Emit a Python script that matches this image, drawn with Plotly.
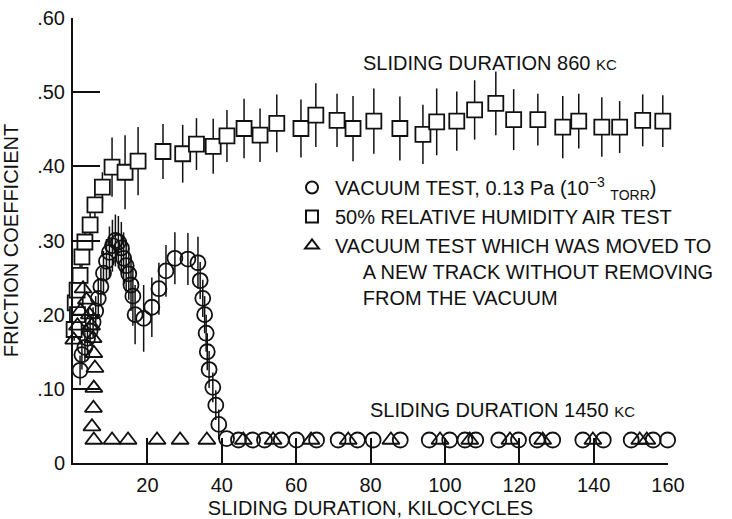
import plotly.graph_objects as go

# ---- vacuum test, 0.13 Pa (circles) ----
vac_x = [1.9, 2.4, 3.2, 3.9, 4.6, 5.4, 6.1, 6.8, 7.5, 8.2, 9.0, 9.8, 10.6, 11.4, 12.2,
         13.0, 13.6, 14.3, 15.0, 15.6, 16.1, 16.7, 19.0, 21.2, 23.1, 25.0, 27.4, 30.9,
         33.6, 34.2, 34.9, 35.4, 35.8, 36.1, 36.6, 37.6, 38.4, 39.2, 41.3, 44.5, 48.3,
         51.5, 56.0, 60.1, 65.5, 71.3, 76.5, 80.7, 88.0, 95.8, 101.3, 105.4, 108.3,
         114.5, 119.8, 124.8, 129.0, 137.1, 142.6, 150.1, 156.0, 159.9]
vac_y = [0.125, 0.146, 0.156, 0.168, 0.178, 0.190, 0.205, 0.222, 0.238, 0.256, 0.272,
         0.284, 0.293, 0.300, 0.298, 0.290, 0.276, 0.266, 0.255, 0.240, 0.225, 0.200,
         0.195, 0.210, 0.235, 0.259, 0.276, 0.275, 0.270, 0.246, 0.222, 0.200, 0.175,
         0.150, 0.126, 0.102, 0.078, 0.052, 0.033, 0.031, 0.031, 0.031, 0.031, 0.031,
         0.031, 0.031, 0.031, 0.031, 0.031, 0.031, 0.031, 0.031, 0.031, 0.031, 0.031,
         0.031, 0.031, 0.031, 0.031, 0.031, 0.031, 0.031]
vac_err = [0.02, 0.02, 0.02, 0.02, 0.02, 0.02, 0.02, 0.025, 0.025, 0.03, 0.03, 0.035,
           0.035, 0.035, 0.035, 0.035, 0.035, 0.035, 0.035, 0.035, 0.04, 0.04,
           0.045, 0.04, 0.035, 0.035, 0.035, 0.035,
           0.035, 0.025, 0.025, 0.025, 0.025, 0.025, 0.025, 0.02, 0.02, 0.02, 0.0,
           0.0, 0.0, 0.0, 0.0, 0.0, 0.0, 0.0, 0.0, 0.0, 0.0, 0.0, 0.0, 0.0, 0.0,
           0.0, 0.0, 0.0, 0.0, 0.0, 0.0, 0.0, 0.0, 0.0]

# ---- 50% relative humidity air test (squares) ----
air_x = [0.3, 0.6, 1.1, 1.2, 1.9, 2.4, 3.2, 4.6, 5.9, 7.9, 10.5, 14.0, 17.5, 24.2, 29.5,
         33.2, 37.7, 41.4, 46.0, 50.3, 54.8, 61.3, 65.3, 71.0, 75.3, 80.9, 87.9, 94.1,
         97.8, 103.2, 108.0, 113.7, 118.5, 125.0, 131.7, 136.0, 142.2, 147.0, 153.2, 158.6]
air_y = [0.180, 0.216, 0.233, 0.200, 0.253, 0.278, 0.298, 0.321, 0.348, 0.372, 0.399,
         0.392, 0.407, 0.420, 0.417, 0.430, 0.427, 0.441, 0.451, 0.442, 0.458, 0.451,
         0.469, 0.462, 0.451, 0.461, 0.451, 0.443, 0.460, 0.461, 0.476, 0.485, 0.463,
         0.463, 0.453, 0.461, 0.453, 0.453, 0.462, 0.461]
air_err = [0.015, 0.015, 0.015, 0.015, 0.015, 0.02, 0.02, 0.02, 0.02, 0.02, 0.04, 0.05,
           0.046, 0.037, 0.039, 0.035, 0.037, 0.035, 0.040, 0.036, 0.039, 0.039, 0.043,
           0.036, 0.044, 0.044, 0.043, 0.040, 0.045, 0.040, 0.040, 0.043, 0.041, 0.035,
           0.042, 0.037, 0.040, 0.035, 0.035, 0.035]

# ---- vacuum test moved to a new track (triangles) ----
trk_x = [0.2, 1.2, 2.0, 2.7, 3.6, 4.4, 5.0, 5.4, 5.6, 5.9, 5.6, 5.5, 5.1, 5.6, 10.5,
         14.8, 22.6, 28.8, 36.0, 45.8, 53.8, 64.0, 74.0, 85.5, 98.7, 106.7, 117.5,
         126.3, 139.8, 152.4, 154.3]
trk_y = [0.166, 0.185, 0.205, 0.235, 0.220, 0.200, 0.185, 0.168, 0.148, 0.128, 0.101,
         0.074, 0.049, 0.031, 0.031, 0.031, 0.031, 0.031, 0.031, 0.031, 0.031, 0.031,
         0.031, 0.031, 0.031, 0.031, 0.031, 0.031, 0.031, 0.031, 0.031]

x_ticks = [20, 40, 60, 80, 100, 120, 140, 160]
y_ticks = [0, 0.1, 0.2, 0.3, 0.4, 0.5, 0.6]
y_ticktext = ["0", ".10", ".20", ".30", ".40", ".50", ".60"]

INK = "#111111"
FONT = "Liberation Sans, Arial, sans-serif"
FS = 20

fig = go.Figure()

fig.add_trace(go.Scatter(
    x=vac_x, y=vac_y, mode="markers", cliponaxis=False,
    name="VACUUM TEST, 0.13 Pa (10<sup>\u22123</sup> <sub>TORR</sub>)",
    marker=dict(symbol="circle-open", size=15, color=INK, line=dict(width=1.8, color=INK)),
    error_y=dict(type="data", array=vac_err, visible=True, thickness=1.5, width=0, color=INK),
))
fig.add_trace(go.Scatter(
    x=air_x, y=air_y, mode="markers", cliponaxis=False,
    name="50% RELATIVE HUMIDITY AIR TEST",
    marker=dict(symbol="square", size=15, color="white", line=dict(width=1.8, color=INK)),
    error_y=dict(type="data", array=air_err, visible=True, thickness=1.5, width=0, color=INK),
))
indent = "\u00a0" * 5
fig.add_trace(go.Scatter(
    x=trk_x, y=trk_y, mode="markers", cliponaxis=False,
    name=("VACUUM TEST WHICH WAS MOVED TO<br>" + indent + "A NEW TRACK WITHOUT REMOVING<br>"
          + indent + "FROM THE VACUUM"),
    marker=dict(symbol="triangle-up-open", size=15, color=INK, line=dict(width=1.8, color=INK)),
))

fig.add_annotation(x=77.5, y=0.540, xref="x", yref="y", xanchor="left", yanchor="middle",
                   showarrow=False,
                   text='SLIDING DURATION 860 <span style="font-size:15px">KC</span>',
                   font=dict(family=FONT, size=FS, color=INK))
fig.add_annotation(x=79.3, y=0.071, xref="x", yref="y", xanchor="left", yanchor="middle",
                   showarrow=False,
                   text='SLIDING DURATION 1450 <span style="font-size:15px">KC</span>',
                   font=dict(family=FONT, size=FS, color=INK))

fig.update_layout(
    width=732, height=519,
    margin=dict(l=73, r=64, t=18, b=56, autoexpand=False),
    paper_bgcolor="white", plot_bgcolor="white",
    font=dict(family=FONT, size=FS, color=INK),
    showlegend=True,
    legend=dict(
        x=(289 - 73) / 595, y=(463 - 168) / 445,
        xanchor="left", yanchor="top", valign="top", itemwidth=36,
        bgcolor="rgba(0,0,0,0)", itemsizing="constant",
        font=dict(family=FONT, size=FS, color=INK),
    ),
    xaxis=dict(
        range=[0, 160], tickvals=x_ticks, ticks="inside", ticklen=25, tickwidth=2,
        tickcolor=INK, showline=True, linecolor=INK, linewidth=2, showgrid=False,
        zeroline=False, automargin=False, ticklabelstandoff=3,
        tickfont=dict(family=FONT, size=FS, color=INK),
        title=dict(text="SLIDING DURATION, KILOCYCLES",
                   font=dict(family=FONT, size=FS, color=INK)),
    ),
    yaxis=dict(
        range=[0, 0.6], tickvals=y_ticks, ticktext=y_ticktext, ticks="inside",
        ticklen=27, tickwidth=2, tickcolor=INK, showline=True, linecolor=INK,
        linewidth=2, showgrid=False, zeroline=False, automargin=False,
        ticklabelstandoff=2,
        tickfont=dict(family=FONT, size=FS, color=INK),
        title=dict(text="FRICTION COEFFICIENT",
                   font=dict(family=FONT, size=FS, color=INK)),
    ),
)

fig.write_html("out.html")
